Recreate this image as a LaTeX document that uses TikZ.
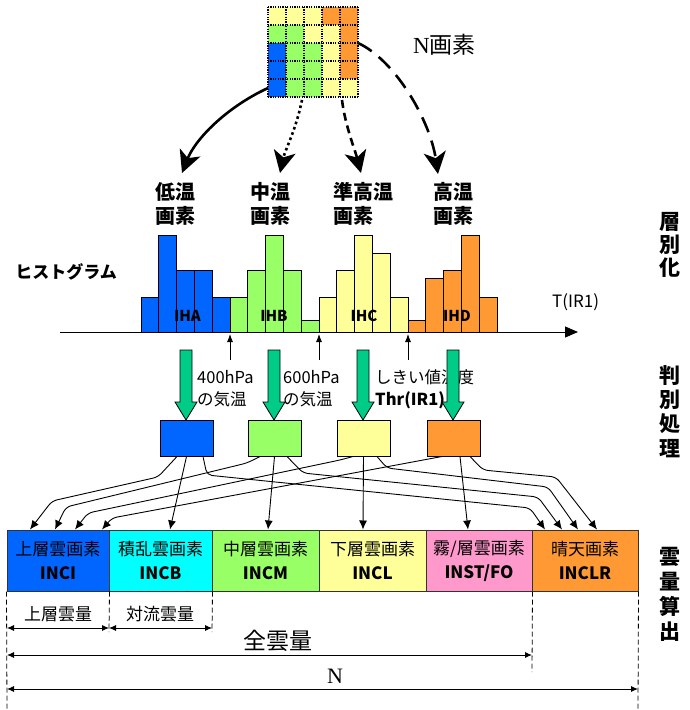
\documentclass[tikz,border=0pt]{standalone}
\usepackage{fontspec}
\setmainfont{Noto Sans CJK JP}
\newfontfamily\serifN{Liberation Serif}
\usetikzlibrary{arrows.meta}
\definecolor{cblue}{RGB}{0,102,255}
\definecolor{cgreen}{RGB}{153,255,102}
\definecolor{cyellow}{RGB}{255,255,153}
\definecolor{corange}{RGB}{255,153,51}
\definecolor{ccyan}{RGB}{0,255,255}
\definecolor{cpink}{RGB}{255,153,204}
\definecolor{cteal}{RGB}{0,204,136}
\begin{document}
\begin{tikzpicture}[x=1pt,y=-1pt,
  bar/.style={draw=black,line width=0.8pt},
  bigarrow/.style={line width=2.6pt,-{Stealth[length=22pt,width=22pt,inset=6pt]}},
  conn/.style={line width=0.9pt,rounded corners=5pt,-{Latex[length=9pt,width=8pt]}},
  pbox/.style={draw=black,line width=1pt,minimum width=53pt,minimum height=36pt,inner sep=0pt},
  cbox/.style={draw=black!80,line width=1pt,minimum width=#1,minimum height=61pt,inner sep=0pt,align=center,font=\fontsize{17}{24}\selectfont},
  dimv/.style={line width=0.8pt,dash pattern=on 5pt off 3pt},
  dima/.style={line width=0.9pt,{Latex[length=7pt,width=6pt]}-{Latex[length=7pt,width=6pt]}},
  uparrow/.style={line width=0.8pt,-{Latex[length=8pt,width=6pt]}},
  tealarrow/.style={fill=cteal,draw=black,line width=0.8pt},
  lbl/.style={inner sep=0pt,align=left,font=\fontsize{20}{24}\selectfont\bfseries},
  side/.style={inner sep=0pt,align=center,font=\fontsize{21}{#1}\selectfont\bfseries},
  note/.style={inner sep=0pt,align=left,font=\fontsize{16.5}{22}\selectfont},
  ih/.style={inner sep=0pt,font=\fontsize{15}{15}\selectfont\bfseries},
]
\useasboundingbox (0,0) rectangle (689,710);

% ---------- pixel grid ----------
\foreach \r/\row in {0/{cyellow,cyellow,cyellow,corange,corange},
                     1/{cgreen,cgreen,cyellow,cyellow,corange},
                     2/{cblue,cgreen,cgreen,cyellow,corange},
                     3/{cblue,cgreen,cgreen,cyellow,corange},
                     4/{cblue,cgreen,cgreen,cyellow,cyellow}}{
  \foreach \col [count=\c from 0] in \row {
    \fill[\col] ({268+18*\c},{7+18*\r}) rectangle ++(18,18);
  }
}
\foreach \k in {0,...,5}{
  \draw[line width=1.1pt,dash pattern=on 1.1pt off 1.3pt] ({268+18*\k},7) -- ({268+18*\k},97);
  \draw[line width=1.1pt,dash pattern=on 1.1pt off 1.3pt] (268,{7+18*\k}) -- (358,{7+18*\k});
}
\node[minimum width=90pt,minimum height=90pt,inner sep=0pt] (grid) at (313,52) {};
\node[inner sep=0pt,anchor=west,font=\fontsize{23}{23}\selectfont] (npix) at (413,45) {{\serifN N}画素};

% ---------- arrows from grid ----------
\coordinate (g1) at (268,88);
\coordinate (g2) at (302,100);
\coordinate (g3) at (342,100);
\coordinate (g4) at (358,43);
\coordinate (t1) at (182,173);
\coordinate (t2) at (280,173);
\coordinate (t3) at (361,173);
\coordinate (t4) at (438,174);
\draw[bigarrow] (g1) .. controls (225,108) and (195,140) .. (t1);
\draw[bigarrow,dash pattern=on 2.6pt off 3pt] (g2) .. controls (296,130) and (285,150) .. (t2);
\draw[bigarrow,dash pattern=on 8pt off 5pt] (g3) .. controls (345,125) and (355,150) .. (t3);
\draw[bigarrow,dash pattern=on 16pt off 9pt] (g4) .. controls (395,60) and (430,120) .. (t4);

% ---------- class labels ----------
\node[lbl,anchor=west] (lowT) at (155,204) {低温\\画素};
\node[lbl,anchor=west] (midT) at (250,204) {中温\\画素};
\node[lbl,anchor=west] (shT) at (333,204) {準高温\\画素};
\node[lbl,anchor=west] (hiT) at (433,204) {高温\\画素};

% ---------- histogram ----------
\node[inner sep=0pt,font=\fontsize{17}{17}\selectfont\bfseries] (histo) at (66,272) {ヒストグラム};
\foreach \i/\t/\c in {0/297/cblue,1/235/cblue,2/270/cblue,3/270/cblue,4/297/cblue,
                      5/297/cgreen,6/270/cgreen,7/235/cgreen,8/270/cgreen,9/320/cgreen,
                      10/297/cyellow,11/270/cyellow,12/235/cyellow,13/253/cyellow,14/297/cyellow,
                      15/320/corange,16/278/corange,17/270/corange,18/235/corange,19/297/corange}{
  \draw[bar,fill=\c] ({141+17.8*\i},332) rectangle ({141+17.8*(\i+1)},\t);
}
\node[ih] (iha) at (187.5,316) {IHA};
\node[ih] (ihb) at (274,316) {IHB};
\node[ih] (ihc) at (364,316) {IHC};
\node[ih] (ihd) at (457,316) {IHD};
\coordinate (ax0) at (60,332);
\coordinate (ax1) at (578,332);
\draw[line width=1pt,-{Triangle[length=13pt,width=11pt]}] (ax0) -- (ax1);
\node[inner sep=0pt,anchor=west,font=\fontsize{17}{17}\selectfont] (tir) at (552,302) {T(IR1)};

% ---------- thresholds ----------
\coordinate (u1s) at (230,360); \coordinate (u1e) at (230,334);
\coordinate (u2s) at (319,360); \coordinate (u2e) at (319,334);
\coordinate (u3s) at (408,360); \coordinate (u3e) at (408,334);
\draw[uparrow] (u1s) -- (u1e);
\draw[uparrow] (u2s) -- (u2e);
\draw[uparrow] (u3s) -- (u3e);
\node[note,anchor=west] (t400) at (197,389) {400hPa\\の気温};
\node[note,anchor=west] (t600) at (283,389) {600hPa\\の気温};
\node[note,anchor=west] (tthr) at (375,389) {しきい値温度\\\textbf{Thr(IR1)}};

% ---------- teal arrows ----------
\foreach \cx in {186,274,363,453}{
  \filldraw[tealarrow] ({\cx-6},350) -- ({\cx+6},350) -- ({\cx+6},402) -- ({\cx+11},402)
    -- (\cx,420) -- ({\cx-11},402) -- ({\cx-6},402) -- cycle;
}

% ---------- process boxes ----------
\node[pbox,fill=cblue] (p1) at (186.5,438) {};
\node[pbox,fill=cgreen] (p2) at (274.5,438) {};
\node[pbox,fill=cyellow] (p3) at (363.5,438) {};
\node[pbox,fill=corange] (p4) at (453.5,438) {};

% ---------- category boxes ----------
\node[cbox=102pt,fill=cblue] (b1) at (58,560.5) {上層雲画素\\{\fontsize{17}{17}\selectfont\bfseries INCI}};
\node[cbox=103pt,fill=ccyan] (b2) at (160.5,560.5) {積乱雲画素\\{\fontsize{17}{17}\selectfont\bfseries INCB}};
\node[cbox=107pt,fill=cgreen] (b3) at (265.5,560.5) {中層雲画素\\{\fontsize{17}{17}\selectfont\bfseries INCM}};
\node[cbox=107pt,fill=cyellow] (b4) at (372.5,560.5) {下層雲画素\\{\fontsize{17}{17}\selectfont\bfseries INCL}};
\node[cbox=106pt,fill=cpink] (b5) at (479,560.5) {霧/層雲画素\\{\fontsize{17}{17}\selectfont\bfseries INST/FO}};
\node[cbox=106pt,fill=corange] (b6) at (585,560.5) {晴天画素\\{\fontsize{17}{17}\selectfont\bfseries INCLR}};

% ---------- connectors ----------
% to INCI
\draw[conn] ([xshift=-9.5pt]p1.south) -- (158,477) -- (52,501) -- ([xshift=-28pt]b1.north);
\draw[conn] ([xshift=-14.5pt]p2.south) -- (247,463) -- (66,507) -- ([xshift=-3pt]b1.north);
\draw[conn] ([xshift=-10.5pt]p3.south) -- (340,460) -- (88,513) -- ([xshift=17pt]b1.north);
\draw[conn] ([xshift=-11.5pt]p4.south) -- (112,518) -- ([xshift=44pt]b1.north);
% own category
\draw[conn] (p1.south) -- ([xshift=9.5pt]b2.north);
\draw[conn] (p2.south) -- ([xshift=2.5pt]b3.north);
\draw[conn] (p3.south) -- ([xshift=-9.5pt]b4.north);
\draw[conn] ([xshift=6.5pt]p4.south) -- ([xshift=-11pt]b5.north);
% to INCLR
\draw[conn] ([xshift=16.5pt]p1.south) -- (207,475) -- (530,508) -- ([xshift=-40pt]b6.north);
\draw[conn] ([xshift=12.5pt]p2.south) -- (303,473) -- (538,497) -- ([xshift=-23pt]b6.north);
\draw[conn] ([xshift=13.5pt]p3.south) -- (387,468) -- (548,487) -- ([xshift=-7pt]b6.north);
\draw[conn] ([xshift=16.5pt]p4.south) -- (483,470) -- (556,477) -- ([xshift=12pt]b6.north);

% ---------- dimension lines ----------
\coordinate (d0) at (7,710);
\coordinate (d1) at (109,632);
\coordinate (d2) at (212,632);
\coordinate (d3) at (532,672);
\coordinate (d4) at (638,710);
\draw[dimv] (b1.south west) -- (d0);
\draw[dimv] (b1.south east) -- (d1);
\draw[dimv] (b2.south east) -- (d2);
\draw[dimv] (b5.south east) -- (d3);
\draw[dimv] (b6.south east) -- (d4);
\coordinate (m1a) at (7,628); \coordinate (m1b) at (109,628);
\coordinate (m2a) at (109,628); \coordinate (m2b) at (212,628);
\coordinate (m3a) at (7,655); \coordinate (m3b) at (532,655);
\coordinate (m4a) at (7,689); \coordinate (m4b) at (638,689);
\draw[dima] (m1a) -- (m1b);
\draw[dima] (m2a) -- (m2b);
\draw[dima] (m3a) -- (m3b);
\draw[dima] (m4a) -- (m4b);
\node[inner sep=0pt,font=\fontsize{17}{17}\selectfont] (lu) at (58,614) {上層雲量};
\node[inner sep=0pt,font=\fontsize{17}{17}\selectfont] (lc) at (160,614) {対流雲量};
\node[inner sep=0pt,font=\fontsize{23}{23}\selectfont] (la) at (278,641) {全雲量};
\node[inner sep=0pt,font=\serifN\fontsize{22}{22}\selectfont] (ln) at (335,676) {N};

% ---------- side labels ----------
\node[side=23] (s1) at (670,245) {層\\別\\化};
\node[side=24.3] (s2) at (670,411.5) {判\\別\\処\\理};
\node[side=25] (s3) at (670,594.5) {雲\\量\\算\\出};
\end{tikzpicture}
\end{document}
